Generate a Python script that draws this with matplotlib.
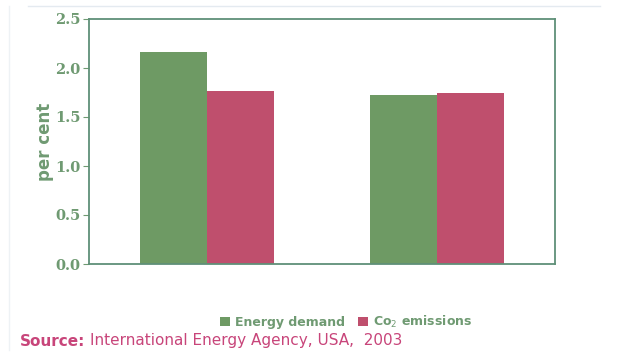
import numpy as np
import matplotlib.pyplot as plt

# growth rates, per cent
groups = ["A", "B"]
energy_demand = [2.16, 1.72]
co2_emissions = [1.77, 1.74]
yticks = [0.0, 0.5, 1.0, 1.5, 2.0, 2.5]

GREEN = "#6e9a64"
RED = "#bf4f6d"
TXT_GREEN = "#6f9a72"
SRC_RED = "#c8457a"

fig = plt.figure(figsize=(6.23, 3.52), dpi=100)
fig.patch.set_facecolor("white")
ax = fig.add_axes([89 / 623, 1 - 264 / 352, 466 / 623, 245 / 352])

x = np.arange(len(groups))
w = 0.29
b1 = ax.bar(x - w / 2, energy_demand, w, color=GREEN, label="Energy demand")
b2 = ax.bar(x + w / 2, co2_emissions, w, color=RED, label="Co$_2$ emissions")

ax.set_xlim(-0.51, 1.51)
ax.set_ylim(0, 2.5)
ax.set_xticks([])
ax.set_yticks(yticks)
ax.set_yticklabels(["%.1f" % t for t in yticks], family="DejaVu Serif",
                   fontweight="bold", fontsize=10.5, color=TXT_GREEN)
ax.tick_params(axis="y", length=4, color=TXT_GREEN, pad=2)
for s in ax.spines.values():
    s.set_color("#5f9078")
    s.set_linewidth(1.3)
ax.set_ylabel("per cent", fontsize=12, fontweight="bold", color=TXT_GREEN, labelpad=1)

# legend along the bottom
leg = fig.legend(handles=[b1, b2], loc="center", bbox_to_anchor=(346 / 623, 1 - 322 / 352),
                 ncol=2, frameon=False, handlelength=0.8, handleheight=0.8,
                 handletextpad=0.4, columnspacing=1.0,
                 prop={"weight": "bold", "size": 9})
for t in leg.get_texts():
    t.set_color(TXT_GREEN)

fig.text(20 / 623, 1 - 341 / 352, "Source:", fontsize=11, fontweight="bold",
         color=SRC_RED, va="center")
fig.text(90 / 623, 1 - 341 / 352, "International Energy Agency, USA,  2003",
         fontsize=11, color=SRC_RED, va="center")

# faint frame lines at top and left
fig.add_artist(plt.Line2D([28 / 623, 600 / 623], [1 - 6 / 352] * 2, color="#e4eaf0", lw=1))
fig.add_artist(plt.Line2D([9 / 623] * 2, [1 - 6 / 352, 1 - 350 / 352], color="#eef2f5", lw=1))

fig.savefig("out.png", dpi=100)
